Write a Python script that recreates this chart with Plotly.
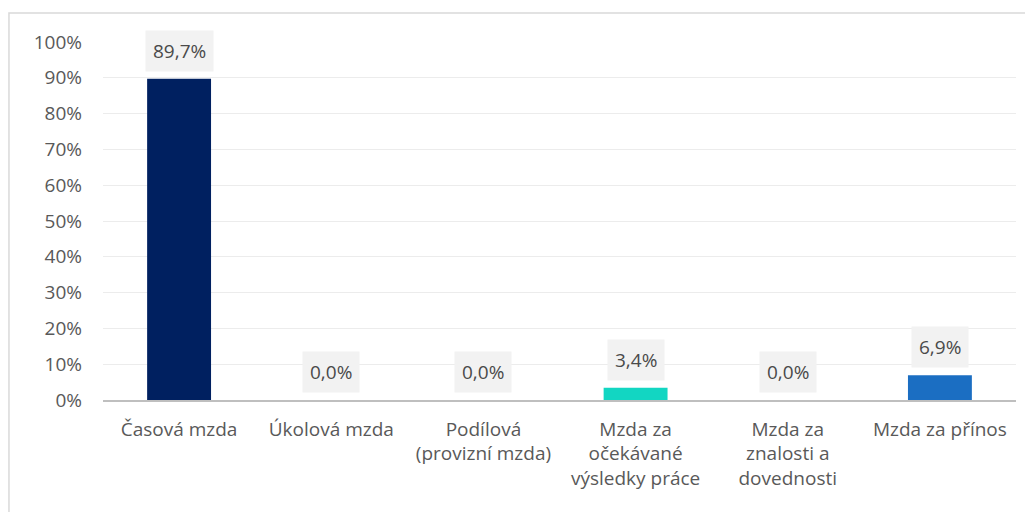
import plotly.graph_objects as go

# data
categories = [
    "Časová mzda",
    "Úkolová mzda",
    "Podílová<br>(provizní mzda)",
    "Mzda za<br>očekávané<br>výsledky práce",
    "Mzda za<br>znalosti a<br>dovednosti",
    "Mzda za přínos",
]
values = [89.7, 0.0, 0.0, 3.4, 0.0, 6.9]
bar_colors = ["#002060", "#002060", "#002060", "#12d6c2", "#002060", "#1b6ec2"]
y_ticks = list(range(0, 101, 10))

FONT = "Open Sans"
TXT = "#595959"
SIZE = 19

fig = go.Figure()
fig.add_trace(
    go.Bar(
        x=categories,
        y=values,
        marker=dict(color=bar_colors, line=dict(width=0)),
        showlegend=False,
        hoverinfo="skip",
    )
)

# datove popisky se sedym pozadim
for cat, val in zip(categories, values):
    fig.add_annotation(
        x=cat,
        y=val,
        text=f"{val:.1f}%".replace(".", ","),
        showarrow=False,
        yanchor="bottom",
        yshift=7,
        bgcolor="#f2f2f2",
        borderpad=7,
        font=dict(family=FONT, size=SIZE, color="#4a4a4a"),
    )

# ramecek kolem grafu
fig.add_shape(
    type="rect",
    xref="paper",
    yref="paper",
    x0=-0.103,
    x1=1.05,
    y0=-0.5,
    y1=1.081,
    line=dict(color="#d9d9d9", width=1.5),
    fillcolor="rgba(0,0,0,0)",
    layer="below",
)

# stranka ma body margin 8px -> figura 1025x504
fig.update_layout(
    width=1025,
    height=504,
    margin=dict(l=95, r=17, t=34, b=112),
    paper_bgcolor="white",
    plot_bgcolor="white",
    bargap=0.58,
    font=dict(family=FONT, size=SIZE, color=TXT),
    xaxis=dict(
        showgrid=False,
        showline=True,
        linecolor="#bfbfbf",
        linewidth=1.5,
        ticks="",
        tickfont=dict(family=FONT, size=SIZE, color=TXT),
        ticklabelstandoff=11,
    ),
    yaxis=dict(
        range=[0, 100],
        tickvals=y_ticks,
        ticktext=[f"{t}%" for t in y_ticks],
        showgrid=True,
        gridcolor="#ececec",
        gridwidth=1,
        zeroline=False,
        showline=False,
        ticks="",
        ticklabelstandoff=20,
        tickfont=dict(family=FONT, size=SIZE, color=TXT),
    ),
)

fig.write_html("out.html")
